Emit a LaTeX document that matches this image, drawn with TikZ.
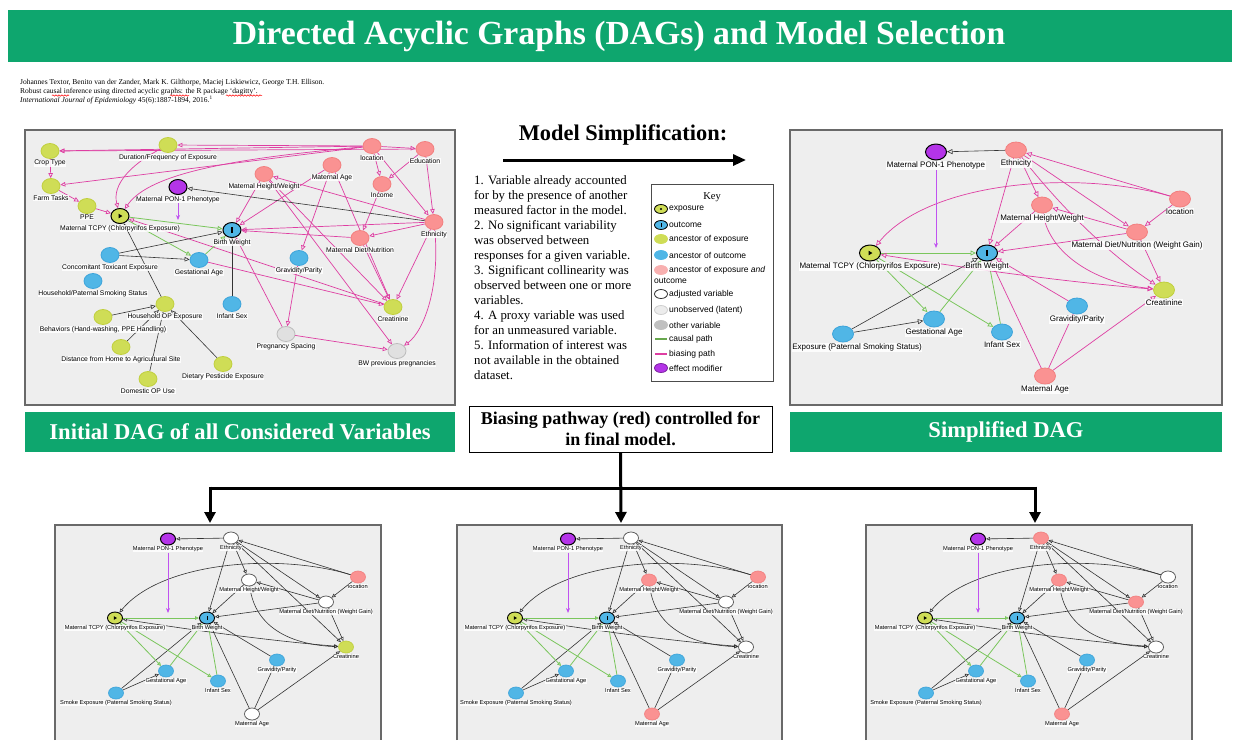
\documentclass[tikz,border=0pt]{standalone}
\usepackage{fontspec}
\setmainfont{Liberation Serif}
\setsansfont{Liberation Sans}
\usetikzlibrary{arrows.meta,shapes.geometric,decorations.pathmorphing}

\pgfdeclarelayer{back}
\pgfdeclarelayer{wires}
\pgfsetlayers{back,wires,main}

\definecolor{banner}{RGB}{14,166,110}
\definecolor{panelbg}{RGB}{238,238,238}
\definecolor{panelrim}{RGB}{105,105,105}
\definecolor{yelgrn}{RGB}{207,221,86}
\definecolor{yelrim}{RGB}{192,207,62}
\definecolor{skyblu}{RGB}{80,182,230}
\definecolor{blurim}{RGB}{62,164,218}
\definecolor{salmon}{RGB}{250,146,146}
\definecolor{salrim}{RGB}{242,128,128}
\definecolor{keypink}{RGB}{248,176,176}
\definecolor{latent}{RGB}{224,224,224}
\definecolor{latrim}{RGB}{188,188,188}
\definecolor{otherv}{RGB}{192,192,192}
\definecolor{violet}{RGB}{180,52,232}
\definecolor{bias}{RGB}{222,62,162}
\definecolor{causal}{RGB}{122,198,92}
\definecolor{modif}{RGB}{192,82,240}

\tikzset{
  dagA/.style={ellipse,minimum width=18pt,minimum height=15pt,inner sep=0pt,line width=0.8pt},
  dagB/.style={ellipse,minimum width=21pt,minimum height=16pt,inner sep=0pt,line width=0.8pt},
  dagC/.style={ellipse,minimum width=15pt,minimum height=12pt,inner sep=0pt,line width=0.7pt},
  nyel/.style={fill=yelgrn,draw=yelrim},
  nblu/.style={fill=skyblu,draw=blurim},
  nsal/.style={fill=salmon,draw=salrim},
  nwht/.style={fill=white,draw=black!70},
  nlat/.style={fill=latent,draw=latrim},
  npur/.style={fill=violet,draw=black,line width=1pt},
  nexpo/.style={fill=yelgrn,draw=black,line width=1pt,
    path picture={\fill[black] ([shift={(-1.4pt,-2.3pt)}]path picture bounding box.center) -- ++(0pt,4.6pt) -- ++(3.8pt,-2.3pt) -- cycle;}},
  nexpos/.style={fill=yelgrn,draw=black,line width=0.9pt,
    path picture={\fill[black] ([shift={(-1.1pt,-1.8pt)}]path picture bounding box.center) -- ++(0pt,3.6pt) -- ++(3pt,-1.8pt) -- cycle;}},
  noutc/.style={fill=skyblu,draw=black,line width=1pt,
    path picture={\fill[black] ([shift={(-0.6pt,-2.6pt)}]path picture bounding box.center) rectangle ++(1.2pt,5.2pt);}},
  noutcs/.style={fill=skyblu,draw=black,line width=0.9pt,
    path picture={\fill[black] ([shift={(-0.5pt,-2pt)}]path picture bounding box.center) rectangle ++(1pt,4pt);}},
  tA/.style={font=\sffamily\fontsize{6.8}{7.5}\selectfont,fill=white,fill opacity=0.85,text opacity=1,inner sep=0.5pt},
  tB/.style={font=\sffamily\fontsize{8}{9}\selectfont,fill=white,fill opacity=0.85,text opacity=1,inner sep=0.5pt},
  tC/.style={font=\sffamily\fontsize{5.7}{6.5}\selectfont,fill=white,fill opacity=0.85,text opacity=1,inner sep=0.4pt},
  bz/.style={draw=bias,line width=0.7pt,->},
  cz/.style={draw=causal,line width=0.8pt,->},
  kz/.style={draw=black!80,line width=0.6pt,->},
  mz/.style={draw=modif,line width=1pt,-{Stealth[length=5pt,width=4pt]}},
  keyic/.style={ellipse,minimum width=13pt,minimum height=9pt,inner sep=0pt,line width=0.8pt},
  keytx/.style={anchor=west,inner sep=0pt,font=\sffamily\fontsize{8.5}{9.5}\selectfont},
  bandtx/.style={text=white,font=\bfseries\fontsize{22.6}{26}\selectfont},
  treeline/.style={line width=3pt,line cap=butt},
  treetip/.style={line width=3pt,-{Triangle[length=11pt,width=11pt]}},
  panelrect/.style={fill=panelbg},
  panelline/.style={draw=panelrim,line width=1.4pt},
  squiggle/.style={red,line width=0.5pt,decorate,decoration={snake,amplitude=0.7pt,segment length=3pt}}
}

% one of the three adjusted DAG variants in the lower row
% #1 horizontal offset, #2 name prefix, #3 Ethnicity, #4 Height/Weight,
% #5 Diet/Nutrition, #6 location, #7 Creatinine, #8 Maternal Age
\newcommand\lowerdag[8]{%
\begin{scope}[shift={(#1,0)},name prefix=#2-,every label/.style={tC},
  >={Triangle[open,length=4pt,width=3.6pt]}]
  \node[dagC,npur,label={[name=ponlbl]below:{Maternal PON-1 Phenotype}}] (pon) at (168,539) {};
  \node[dagC,#3,label=below:{Ethnicity}] (eth) at (231,538) {};
  \node[dagC,#4,label=below:{Maternal Height/Weight}] (mhw) at (249,580) {};
  \node[dagC,#6,label=below:{location}] (loc) at (358,577) {};
  \node[dagC,#5,label=below:{Maternal Diet/Nutrition (Weight Gain)}] (mdiet) at (326,602) {};
  \node[dagC,nexpos,label=below:{Maternal TCPY (Chlorpyrifos Exposure)}] (tcpy) at (115,618) {};
  \node[dagC,noutcs,label=below:{Birth Weight}] (bw) at (207,618) {};
  \node[dagC,#7,label=below:{Creatinine}] (crea) at (346,647) {};
  \node[dagC,nblu,label=below:{Gestational Age}] (gest) at (166,671) {};
  \node[dagC,nblu,label=below:{Infant Sex}] (sex) at (218,681) {};
  \node[dagC,nblu,label=below:{Smoke Exposure (Paternal Smoking Status)}] (smk) at (116,693) {};
  \node[dagC,nblu,label=below:{Gravidity/Parity}] (grav) at (277,660) {};
  \node[dagC,#8,label=below:{Maternal Age}] (mag) at (252,714) {};
  \coordinate (pontip) at (168,613);
  \begin{pgfonlayer}{wires}
    \draw[kz] (eth) -- (pon);
    \draw[kz] (loc) -- (eth);
    \draw[kz] (eth) -- (mhw);
    \draw[kz] (eth) -- (mdiet);
    \draw[kz] (eth) -- (bw);
    \draw[kz] (eth) -- (crea);
    \draw[kz] (loc) -- (mdiet);
    \draw[kz] (loc) .. controls (280,553) and (162,561) .. (tcpy);
    \draw[kz] (mdiet) -- (mhw);
    \draw[kz] (mdiet) -- (bw);
    \draw[kz] (mhw) -- (bw);
    \draw[kz] (mhw) .. controls (255,630) and (295,645) .. (crea);
    \draw[kz] (mdiet) -- (crea);
    \draw[kz,<->] (crea) .. controls (260,640) and (180,628) .. (tcpy);
    \draw[kz] (smk) -- (gest);
    \draw[kz] (smk) -- (bw);
    \draw[kz] (grav) -- (bw);
    \draw[kz] (mag) -- (bw);
    \draw[kz] (mag) -- (grav);
    \draw[kz] (mag) -- (crea);
    \draw[cz] (tcpy) -- (bw);
    \draw[cz] (tcpy) -- (gest);
    \draw[cz] (tcpy) -- (sex);
    \draw[cz] (gest) -- (bw);
    \draw[cz] (sex) -- (bw);
    \draw[mz] (ponlbl.south) -- (pontip);
  \end{pgfonlayer}
\end{scope}}

\begin{document}
\begin{tikzpicture}[x=1pt,y=-1pt,label distance=0.5pt]
\useasboundingbox (0,0) rectangle (1233,740);

% ---------- backgrounds, bands and panels ----------
\begin{pgfonlayer}{back}
  \fill[white] (0,0) rectangle (1233,740);
  \fill[banner] (8,10) rectangle (1232,62);
  \fill[panelrect] (25,130) rectangle (455,405);
  \draw[panelline] (25,130) rectangle (455,405);
  \draw[draw=panelrim,line width=2.6pt] (25,130) -- (455,130);
  \fill[panelrect] (790,130) rectangle (1222,405);
  \draw[panelline] (790,130) rectangle (1222,405);
  \draw[draw=panelrim,line width=2.6pt] (790,130) -- (1222,130);
  \fill[banner] (25,412) rectangle (455,452);
  \fill[banner] (790,412) rectangle (1222,452);
  \fill[panelrect] (55,525) rectangle (381,740);
  \draw[panelline] (55,740) -- (55,525) -- (381,525) -- (381,740);
  \fill[panelrect] (457,525) rectangle (782,740);
  \draw[panelline] (457,740) -- (457,525) -- (782,525) -- (782,740);
  \fill[panelrect] (866,525) rectangle (1192,740);
  \draw[panelline] (866,740) -- (866,525) -- (1192,525) -- (1192,740);
\end{pgfonlayer}

% ---------- titles ----------
\node[text=white,font=\bfseries\fontsize{33.7}{38}\selectfont] (title) at (619,36)
  {Directed Acyclic Graphs (DAGs) and Model Selection};
\node[bandtx] (bandL) at (240,432) {Initial DAG of all Considered Variables};
\node[bandtx] (bandR) at (1006,432) {Simplified DAG};

% ---------- reference ----------
\node[anchor=north west,align=left,inner sep=0pt,font=\fontsize{7.5}{9}\selectfont] (cite) at (20,79)
  {Johannes Textor, Benito van der Zander, Mark K. Gilthorpe, Maciej Liskiewicz, George T.H. Ellison.\\
   Robust causal inference using directed acyclic graphs: the R package `dagitty'.\\
   \textit{International Journal of Epidemiology} 45(6):1887-1894, 2016.\textsuperscript{1}};
\draw[squiggle] (52,95.5) -- (69,95.5);
\draw[squiggle] (170,95.5) -- (189,95.5);
\draw[squiggle] (226,95.5) -- (262,95.5);

% ---------- model simplification ----------
\node[font=\bfseries\fontsize{22.4}{26}\selectfont] (simp) at (623,135) {Model Simplification:};
\coordinate (simpA) at (503,160);
\coordinate (simpB) at (746,160);
\draw[line width=3pt,-{Triangle[length=13pt,width=11pt]}] (simpA) -- (simpB);

\node[anchor=north west,align=left,inner sep=0pt,font=\fontsize{12.8}{15}\selectfont] (reasons) at (474,175)
  {1. Variable already accounted\\
   for by the presence of another\\
   measured factor in the model.\\
   2. No significant variability\\
   was observed between\\
   responses for a given variable.\\
   3. Significant collinearity was\\
   observed between one or more\\
   variables.\\
   4. A proxy variable was used\\
   for an unmeasured variable.\\
   5. Information of interest was\\
   not available in the obtained\\
   dataset.};

% ---------- key ----------
\node[draw=black!70,line width=0.8pt,anchor=north west,minimum width=122pt,minimum height=197pt,inner sep=0pt] (keybox) at (651,184) {};
\node[font=\fontsize{10.5}{12}\selectfont] (keyttl) at (712,197) {Key};
\node[keyic,fill=yelgrn,draw=black,
  path picture={\fill[black] (path picture bounding box.center) circle (1.1pt);}] (k1) at (661,209) {};
\node[keytx] (k1t) at (669,209) {exposure};
\node[keyic,fill=skyblu,draw=black,
  path picture={\fill[black] ([shift={(-0.5pt,-2pt)}]path picture bounding box.center) rectangle ++(1pt,4pt);}] (k2) at (661,225) {};
\node[keytx] (k2t) at (669,225) {outcome};
\node[keyic,fill=yelgrn,draw=yelgrn] (k3) at (661,239) {};
\node[keytx] (k3t) at (669,239) {ancestor of exposure};
\node[keyic,fill=skyblu,draw=skyblu] (k4) at (661,255) {};
\node[keytx] (k4t) at (669,255) {ancestor of outcome};
\node[keyic,fill=keypink,draw=keypink] (k5) at (661,270) {};
\node[keytx] (k5t) at (669,270) {ancestor of exposure \textit{and}};
\node[keytx] (k5u) at (654,281) {outcome};
\node[keyic,fill=white,draw=black!80] (k6) at (661,294) {};
\node[keytx] (k6t) at (669,294) {adjusted variable};
\node[keyic,fill=latent!60,draw=latrim!70] (k7) at (661,310) {};
\node[keytx] (k7t) at (669,310) {unobserved (latent)};
\node[keyic,fill=otherv,draw=otherv] (k8) at (661,325) {};
\node[keytx] (k8t) at (669,325) {other variable};
\coordinate (k9a) at (655,339);
\coordinate (k9b) at (667,339);
\draw[causal!85!black,line width=2pt] (k9a) -- (k9b);
\node[keytx] (k9t) at (669,339) {causal path};
\coordinate (k10a) at (655,354);
\coordinate (k10b) at (667,354);
\draw[bias,line width=2pt] (k10a) -- (k10b);
\node[keytx] (k10t) at (669,354) {biasing path};
\node[keyic,fill=violet,draw=violet!70!black] (k11) at (661,368) {};
\node[keytx] (k11t) at (669,368) {effect modifier};

% ---------- caption box and branching arrows ----------
\node[draw=black,line width=0.9pt,minimum width=303pt,minimum height=46pt,inner sep=0pt,align=center,
  font=\bfseries\fontsize{18}{21}\selectfont] (capbox) at (620.5,429)
  {Biasing pathway (red) controlled for\\in final model.};
\coordinate (junc) at (621,488);
\coordinate (brL) at (210,488);
\coordinate (brR) at (1035,488);
\coordinate (tipL) at (210,523);
\coordinate (tipM) at (621,523);
\coordinate (tipR) at (1035,523);
\draw[treeline] (brL) -- (brR);
\draw[treetip] (capbox.south) -- (tipM);
\draw[treetip] ([yshift=1.5pt]brL) -- (tipL);
\draw[treetip] ([yshift=1.5pt]brR) -- (tipR);

% ---------- initial DAG of all considered variables ----------
\begin{scope}[every label/.style={tA},>={Triangle[open,length=5pt,width=4.5pt]}]
  \node[dagA,nyel,label=below:{Crop Type}] (crop) at (50,151) {};
  \node[dagA,nyel,label=below:{Duration/Frequency of Exposure}] (dur) at (168,145) {};
  \node[dagA,nyel,label=below:{Farm Tasks}] (farm) at (51,186) {};
  \node[dagA,nyel,label=below:{PPE}] (ppe) at (87,206) {};
  \node[dagA,nexpo,label=below:{Maternal TCPY (Chlorpyrifos Exposure)}] (tcpyA) at (120,216) {};
  \node[dagA,npur,label={[name=ponAlbl]below:{Maternal PON-1 Phenotype}}] (ponA) at (178,187) {};
  \node[dagA,noutc,label=below:{Birth Weight}] (bwA) at (232,230) {};
  \node[dagA,nblu,label=below:{Concomitant Toxicant Exposure}] (conc) at (110,255) {};
  \node[dagA,nblu,label=below:{Gestational Age}] (gestA) at (199,260) {};
  \node[dagA,nblu,label=below:{Household/Paternal Smoking Status}] (hhsmk) at (93,281) {};
  \node[dagA,nyel,label=below:{Household OP Exposure}] (hhop) at (165,304) {};
  \node[dagA,nyel,label=below:{Behaviors (Hand-washing, PPE Handling)}] (behav) at (103,317) {};
  \node[dagA,nyel,label=below:{Distance from Home to Agricultural Site}] (dist) at (121,347) {};
  \node[dagA,nyel,label=below:{Domestic OP Use}] (domop) at (148,379) {};
  \node[dagA,nyel,label=below:{Dietary Pesticide Exposure}] (dpest) at (223,364) {};
  \node[dagA,nblu,label=below:{Infant Sex}] (sexA) at (232,304) {};
  \node[dagA,nsal,label=below:{location}] (locA) at (372,146) {};
  \node[dagA,nsal,label=below:{Education}] (edu) at (425,149) {};
  \node[dagA,nsal,label=below:{Maternal Age}] (magA) at (332,165) {};
  \node[dagA,nsal,label=below:{Maternal Height/Weight}] (mhwA) at (264,174) {};
  \node[dagA,nsal,label=below:{Income}] (inc) at (382,184) {};
  \node[dagA,nsal,label=below:{Ethnicity}] (ethA) at (434,222) {};
  \node[dagA,nsal,label=below:{Maternal Diet/Nutrition}] (mdietA) at (360,238) {};
  \node[dagA,nblu,label=below:{Gravidity/Parity}] (gravA) at (299,258) {};
  \node[dagA,nyel,label=below:{Creatinine}] (creaA) at (393,307) {};
  \node[dagA,nlat,label=below:{Pregnancy Spacing}] (pspc) at (286,334) {};
  \node[dagA,nlat,label=below:{BW previous pregnancies}] (bwprev) at (397,351) {};
  \coordinate (ponAtip) at (178,220);
  \begin{pgfonlayer}{wires}
    \draw[bz] (locA) -- (dur);
    \draw[bz] (locA) -- (crop);
    \draw[bz] (edu) -- (crop);
    \draw[bz] (locA) -- (farm);
    \draw[bz] (locA) .. controls (240,158) and (150,172) .. (tcpyA);
    \draw[bz] (dur) .. controls (130,165) and (112,185) .. (tcpyA);
    \draw[bz] (crop) -- (farm);
    \draw[bz] (farm) -- (ppe);
    \draw[bz] (ppe) -- (tcpyA);
    \draw[bz] (locA) -- (edu);
    \draw[bz] (locA) -- (inc);
    \draw[bz] (edu) -- (inc);
    \draw[bz] (locA) -- (ethA);
    \draw[bz] (edu) -- (ethA);
    \draw[bz] (inc) -- (mdietA);
    \draw[bz] (ethA) -- (mhwA);
    \draw[bz] (ethA) -- (mdietA);
    \draw[bz] (ethA) -- (bwA);
    \draw[bz] (mdietA) -- (bwA);
    \draw[bz] (mhwA) -- (bwA);
    \draw[bz] (magA) -- (bwA);
    \draw[bz] (magA) -- (gravA);
    \draw[bz] (magA) -- (creaA);
    \draw[bz] (mhwA) -- (creaA);
    \draw[bz] (mdietA) -- (creaA);
    \draw[bz] (ethA) -- (creaA);
    \draw[bz] (gestA) -- (creaA);
    \draw[bz] (ethA) .. controls (440,285) and (425,330) .. (bwprev);
    \draw[bz] (gravA) -- (pspc);
    \draw[bz] (pspc) -- (bwprev);
    \draw[bz] (mhwA) -- (bwprev);
    \draw[bz] (pspc) -- (bwA);
    \draw[bz] (creaA) -- (tcpyA);
    \draw[kz] (ethA) -- (ponA);
    \draw[kz] (conc) -- (bwA);
    \draw[kz] (conc) -- (gestA);
    \draw[kz] (hhop) -- (tcpyA);
    \draw[kz] (behav) -- (hhop);
    \draw[kz] (dist) -- (hhop);
    \draw[kz] (domop) -- (hhop);
    \draw[kz] (dpest) -- (hhop);
    \draw[kz] (sexA) -- (bwA);
    \draw[cz] (tcpyA) -- (bwA);
    \draw[cz] (tcpyA) -- (gestA);
    \draw[cz] (gestA) -- (bwA);
    \draw[mz] (ponAlbl.south) -- (ponAtip);
  \end{pgfonlayer}
\end{scope}

% ---------- simplified DAG ----------
\begin{scope}[every label/.style={tB},>={Triangle[open,length=5.5pt,width=5pt]}]
  \node[dagB,npur,label={[name=ponBlbl]below:{Maternal PON-1 Phenotype}}] (ponB) at (936,152) {};
  \node[dagB,nsal,label=below:{Ethnicity}] (ethB) at (1016,150) {};
  \node[dagB,nsal,label=below:{Maternal Height/Weight}] (mhwB) at (1042,205) {};
  \node[dagB,nsal,label=below:{location}] (locB) at (1180,199) {};
  \node[dagB,nsal,label=below:{Maternal Diet/Nutrition (Weight Gain)}] (mdietB) at (1137,232) {};
  \node[dagB,nexpo,label=below:{Maternal TCPY (Chlorpyrifos Exposure)}] (tcpyB) at (870,253) {};
  \node[dagB,noutc,label=below:{Birth Weight}] (bwB) at (987,253) {};
  \node[dagB,nyel,label=below:{Creatinine}] (creaB) at (1164,290) {};
  \node[dagB,nblu,label=below:{Gestational Age}] (gestB) at (934,319) {};
  \node[dagB,nblu,label=below:{Infant Sex}] (sexB) at (1002,332) {};
  \node[dagB,nblu,label={[xshift=14pt]below:{Exposure (Paternal Smoking Status)}}] (smkB) at (843,334) {};
  \node[dagB,nblu,label=below:{Gravidity/Parity}] (gravB) at (1077,306) {};
  \node[dagB,nsal,label=below:{Maternal Age}] (magB) at (1045,376) {};
  \coordinate (ponBtip) at (936,248);
  \begin{pgfonlayer}{wires}
    \draw[kz] (ethB) -- (ponB);
    \draw[kz] (smkB) -- (gestB);
    \draw[kz] (smkB) -- (bwB);
    \draw[cz] (tcpyB) -- (bwB);
    \draw[cz] (tcpyB) -- (gestB);
    \draw[cz] (tcpyB) -- (sexB);
    \draw[cz] (gestB) -- (bwB);
    \draw[cz] (sexB) -- (bwB);
    \draw[bz] (locB) .. controls (1080,170) and (930,180) .. (tcpyB);
    \draw[bz] (locB) -- (ethB);
    \draw[bz] (locB) -- (mdietB);
    \draw[bz] (ethB) -- (mhwB);
    \draw[bz] (ethB) -- (mdietB);
    \draw[bz] (ethB) -- (bwB);
    \draw[bz] (ethB) .. controls (1075,225) and (1125,265) .. (creaB);
    \draw[bz] (mdietB) -- (mhwB);
    \draw[bz] (mdietB) -- (bwB);
    \draw[bz] (mhwB) -- (bwB);
    \draw[bz] (mdietB) -- (creaB);
    \draw[bz] (mhwB) .. controls (1048,250) and (1090,282) .. (creaB);
    \draw[bz] (magB) -- (bwB);
    \draw[bz] (magB) -- (gravB);
    \draw[bz] (magB) -- (creaB);
    \draw[bz] (gravB) -- (bwB);
    \draw[bz,<->] (creaB) .. controls (1054,281) and (953,266) .. (tcpyB);
    \draw[mz] (ponBlbl.south) -- (ponBtip);
  \end{pgfonlayer}
\end{scope}

% ---------- the three adjusted variants ----------
\lowerdag{0}{pa}{nwht}{nwht}{nwht}{nsal}{nyel}{nwht}
\lowerdag{400}{pb}{nwht}{nsal}{nwht}{nsal}{nwht}{nsal}
\lowerdag{810}{pc}{nsal}{nsal}{nsal}{nwht}{nwht}{nsal}

\end{tikzpicture}
\end{document}
